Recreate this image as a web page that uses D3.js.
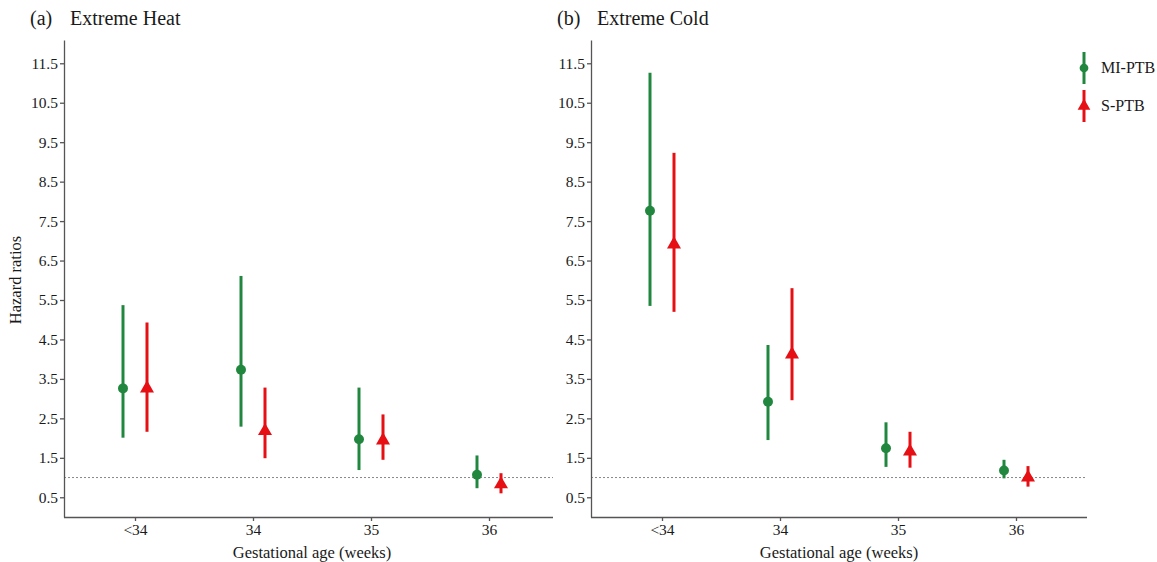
<!DOCTYPE html>
<html>
<head>
<meta charset="utf-8">
<script src="https://cdn.jsdelivr.net/npm/d3@7"></script>
<style>
  body { margin: 0; background: #fff; }
  svg text { font-family: "Liberation Serif", "Times New Roman", serif; fill: #1a1a1a; }
</style>
</head>
<body>
<div id="chart"></div>
<script>
// gestational age groups
var categories = ["<34", "34", "35", "36"];
var yTicks = [0.5, 1.5, 2.5, 3.5, 4.5, 5.5, 6.5, 7.5, 8.5, 9.5, 10.5, 11.5];

// (a) Extreme Heat
var heatMiEst = [3.26, 3.73, 1.97, 1.07];
var heatMiLow = [2.01, 2.29, 1.19, 0.73];
var heatMiHigh = [5.37, 6.11, 3.28, 1.56];
var heatSEst = [3.26, 2.18, 1.94, 0.83];
var heatSLow = [2.16, 1.49, 1.45, 0.60];
var heatSHigh = [4.93, 3.28, 2.60, 1.11];

// (b) Extreme Cold
var coldMiEst = [7.76, 2.92, 1.74, 1.18];
var coldMiLow = [5.35, 1.95, 1.27, 0.98];
var coldMiHigh = [11.26, 4.36, 2.40, 1.45];
var coldSEst = [6.91, 4.12, 1.66, 1.00];
var coldSLow = [5.20, 2.96, 1.25, 0.77];
var coldSHigh = [9.23, 5.80, 2.16, 1.29];

var green = "#21873f", red = "#e50f14";

var width = 1157, height = 562;
var svg = d3.select("#chart").append("svg")
    .attr("width", width)
    .attr("height", height);

var y = d3.scaleLinear().domain([0, 12.09]).range([517, 40]);

function panel(opts) {
  var g = svg.append("g");
  var x = d3.scalePoint().domain(categories).range([opts.x0 + 71, opts.x0 + 425]);

  // reference line at HR = 1
  g.append("line")
      .attr("x1", opts.x0).attr("x2", opts.x1)
      .attr("y1", y(1)).attr("y2", y(1))
      .style("stroke", "#888").style("stroke-width", 1)
      .style("stroke-dasharray", "2,2");

  var yAxis = g.append("g")
      .attr("transform", "translate(" + opts.x0 + ",0)")
      .call(d3.axisLeft(y).tickValues(yTicks).tickFormat(d3.format(".1f")).tickSize(4).tickSizeOuter(0));
  var xAxis = g.append("g")
      .attr("transform", "translate(0,517)")
      .call(d3.axisBottom(x).tickSize(4).tickSizeOuter(0));
  xAxis.select(".domain").attr("d", "M" + opts.x0 + ",0.5H" + opts.x1);
  [yAxis, xAxis].forEach(function(a) {
    a.selectAll(".domain, line").style("stroke", "#555").style("stroke-width", 1.3);
    a.selectAll("text").style("font-size", "15.5px").style("fill", "#1a1a1a")
      .style("font-family", "'Liberation Serif', serif");
  });
  yAxis.selectAll("text").attr("x", -6);

  var series = [
    {est: opts.miEst, low: opts.miLow, high: opts.miHigh, col: green, dx: -12, shape: "circle"},
    {est: opts.sEst, low: opts.sLow, high: opts.sHigh, col: red, dx: 12, shape: "triangle"}
  ];
  series.forEach(function(s) {
    var sg = g.append("g");
    sg.selectAll("line.ci").data(categories).enter().append("line")
        .attr("class", "ci")
        .attr("x1", function(d) { return x(d) + s.dx; })
        .attr("x2", function(d) { return x(d) + s.dx; })
        .attr("y1", function(d, i) { return y(s.low[i]); })
        .attr("y2", function(d, i) { return y(s.high[i]); })
        .style("stroke", s.col).style("stroke-width", 3);
    var sym = d3.symbol().type(s.shape == "circle" ? d3.symbolCircle : d3.symbolTriangle)
        .size(s.shape == "circle" ? 78 : 85);
    sg.selectAll("path.pt").data(categories).enter().append("path")
        .attr("class", "pt")
        .attr("d", sym)
        .attr("transform", function(d, i) {
          return "translate(" + (x(d) + s.dx) + "," + y(s.est[i]) + ")";
        })
        .style("fill", s.col);
  });

  // titles
  g.append("text").attr("x", opts.x0 - 34).attr("y", 25)
      .style("font-size", "20px").text(opts.tag);
  g.append("text").attr("x", opts.x0 + 6).attr("y", 25)
      .style("font-size", "20px").text(opts.title);
  g.append("text").attr("x", x("34") + 59).attr("y", 558)
      .attr("text-anchor", "middle").style("font-size", "16.5px")
      .text("Gestational age (weeks)");
}

panel({x0: 64, x1: 553, tag: "(a)", title: "Extreme Heat",
  miEst: heatMiEst, miLow: heatMiLow, miHigh: heatMiHigh,
  sEst: heatSEst, sLow: heatSLow, sHigh: heatSHigh});
panel({x0: 591, x1: 1087, tag: "(b)", title: "Extreme Cold",
  miEst: coldMiEst, miLow: coldMiLow, miHigh: coldMiHigh,
  sEst: coldSEst, sLow: coldSLow, sHigh: coldSHigh});

svg.append("text")
    .attr("transform", "translate(21,280) rotate(-90)")
    .attr("text-anchor", "middle").style("font-size", "16.5px")
    .text("Hazard ratios");

// legend
var legend = [
  {name: "MI-PTB", col: green, shape: d3.symbolCircle, size: 60},
  {name: "S-PTB", col: red, shape: d3.symbolTriangle, size: 70}
];
var lg = svg.append("g").attr("transform", "translate(1084,68)");
lg.selectAll("g").data(legend).enter().append("g")
    .attr("transform", function(d, i) { return "translate(0," + i * 38 + ")"; })
    .each(function(d) {
      var e = d3.select(this);
      e.append("line").attr("y1", -16).attr("y2", 16)
        .style("stroke", d.col).style("stroke-width", 3);
      e.append("path").attr("d", d3.symbol().type(d.shape).size(d.size)).style("fill", d.col);
      e.append("text").attr("x", 17).attr("y", 5).style("font-size", "16px").text(d.name);
    });
</script>
</body>
</html>
